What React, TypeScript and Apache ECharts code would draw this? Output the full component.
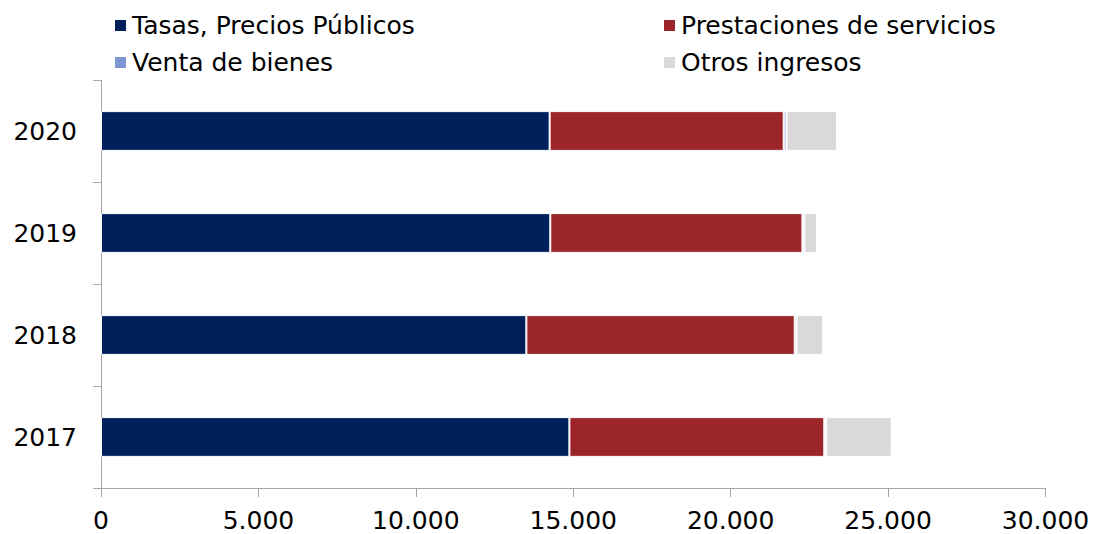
import React, { useEffect, useRef } from "react";
import * as echarts from "echarts";

const categories = ["2017", "2018", "2019", "2020"];
const tasas = [14877, 13510, 14270, 14250];
const prestaciones = [8097, 8525, 8010, 7435];
const venta = [60, 60, 60, 85];
const otros = [2081, 840, 405, 1610];
const xTicks = [0, 5000, 10000, 15000, 20000, 25000, 30000];

const FONT = "DejaVu Sans";

const fmt = (v: number) => String(v).replace(/\B(?=(\d{3})+(?!\d))/g, ".");

export default function App() {
  const ref = useRef<HTMLDivElement>(null);
  useEffect(() => {
    if (!ref.current) return;
    const chart = echarts.init(ref.current, undefined, { renderer: "svg" });
    const mk = (name: string, data: number[], color: string) => ({
      name,
      type: "bar",
      stack: "total",
      data,
      barWidth: "39%",
      itemStyle: { color, borderColor: "#ffffff", borderWidth: 1 },
    });
    const legendText = { fontFamily: FONT, fontSize: 25, color: "#000" };
    chart.setOption({
      animation: false,
      textStyle: { fontFamily: FONT },
      legend: [
        {
          data: ["Tasas, Precios Públicos", "Venta de bienes"],
          orient: "vertical",
          left: 108,
          top: 8,
          itemWidth: 13,
          itemHeight: 13,
          itemGap: 12,
          icon: "rect",
          textStyle: legendText,
        },
        {
          data: ["Prestaciones de servicios", "Otros ingresos"],
          orient: "vertical",
          left: 657,
          top: 8,
          itemWidth: 13,
          itemHeight: 13,
          itemGap: 12,
          icon: "rect",
          textStyle: legendText,
        },
      ],
      grid: { left: 101, right: 47.5, top: 80, bottom: 46, containLabel: false },
      xAxis: {
        type: "value",
        min: xTicks[0],
        max: xTicks[xTicks.length - 1],
        interval: xTicks[1] - xTicks[0],
        splitLine: { show: false },
        axisLine: { show: true, lineStyle: { color: "#a6a6a6", width: 1 } },
        axisTick: { show: true, length: 9, lineStyle: { color: "#a6a6a6" } },
        axisLabel: {
          margin: 20,
          fontFamily: FONT,
          fontSize: 25,
          color: "#000",
          formatter: (v: number) => fmt(v),
        },
      },
      yAxis: {
        type: "category",
        data: categories,
        axisLine: { show: true, lineStyle: { color: "#a6a6a6", width: 1 } },
        axisTick: { show: true, length: 8, lineStyle: { color: "#a6a6a6" } },
        axisLabel: { margin: 24, fontFamily: FONT, fontSize: 25, color: "#000" },
      },
      series: [
        mk("Tasas, Precios Públicos", tasas, "#00205C"),
        mk("Prestaciones de servicios", prestaciones, "#9C252A"),
        mk("Venta de bienes", venta, "#7F96D4"),
        mk("Otros ingresos", otros, "#D9D9D9"),
      ],
    });
    return () => chart.dispose();
  }, []);
  return <div ref={ref} style={{ width: 1093, height: 534, position: "absolute", left: 0, top: 0 }} />;
}
